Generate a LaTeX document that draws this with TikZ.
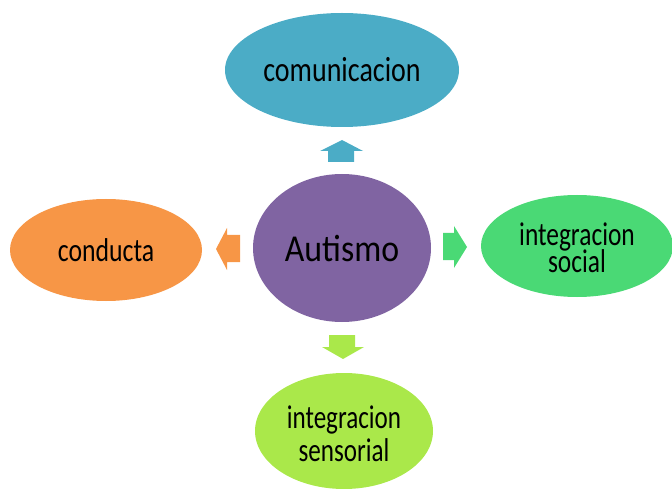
\documentclass[tikz,border=0pt]{standalone}
\usepackage{fontspec}
\usetikzlibrary{shapes.geometric}
\newfontfamily\calfont{Carlito}
\definecolor{cblue}{HTML}{4BACC6}
\definecolor{cpurple}{HTML}{8064A2}
\definecolor{corange}{HTML}{F79646}
\definecolor{cgreen}{HTML}{4AD975}
\definecolor{clime}{HTML}{AAE84A}
\newcommand\sqtext[3]{\scalebox{#1}[1]{\fontsize{#2}{#2}\calfont #3}}
\tikzset{
  blob/.style={ellipse, inner sep=0pt},
  lbl/.style={inner sep=0pt, text=black, align=center},
}
\begin{document}
\begin{tikzpicture}[x=1pt,y=-1pt]
\useasboundingbox (0,0) rectangle (672,489);
% ellipses
\node[blob, fill=cblue, minimum width=234pt, minimum height=114pt] (com) at (342,70) {};
\node[blob, fill=cpurple, minimum width=178pt, minimum height=148pt] (aut) at (342,248) {};
\node[blob, fill=corange, minimum width=192pt, minimum height=102pt] (con) at (106,250) {};
\node[blob, fill=cgreen, minimum width=192pt, minimum height=102pt] (soc) at (577,246) {};
\node[blob, fill=clime, minimum width=178pt, minimum height=116pt] (sen) at (344,431) {};
% labels
\node[lbl] (com-t) at (com.center) {\sqtext{0.80}{35}{comunicacion}};
\node[lbl] (aut-t) at ([yshift=-1pt]aut.center) {\sqtext{0.89}{38}{Autismo}};
\node[lbl] (con-t) at (con.center) {\sqtext{0.78}{33}{conducta}};
\node[lbl] (soc-t) at ([yshift=-6pt]soc.center)
  {\scalebox{0.77}[1]{\fontsize{33}{27}\calfont\begin{tabular}{@{}c@{}}integracion\\[-4pt]social\end{tabular}}};
\node[lbl] (sen-t) at ([yshift=-7pt]sen.center)
  {\scalebox{0.76}[1]{\fontsize{33}{31}\calfont\begin{tabular}{@{}c@{}}integracion\\[1pt]sensorial\end{tabular}}};
% block arrows
\fill[cblue] (328,162) -- (328,151) -- (320,151) -- (342,140) -- (363,151) -- (354,151) -- (354,162) -- cycle;
\fill[corange] (240,235) -- (227,235) -- (227,228) -- (216,249) -- (227,270) -- (227,262) -- (240,262) -- cycle;
\fill[cgreen] (443,233) -- (454,233) -- (454,226) -- (467,247) -- (454,268) -- (454,260) -- (443,260) -- cycle;
\fill[clime] (329,335) -- (355,335) -- (355,347) -- (364,347) -- (343,359) -- (322,347) -- (329,347) -- cycle;
\end{tikzpicture}
\end{document}
